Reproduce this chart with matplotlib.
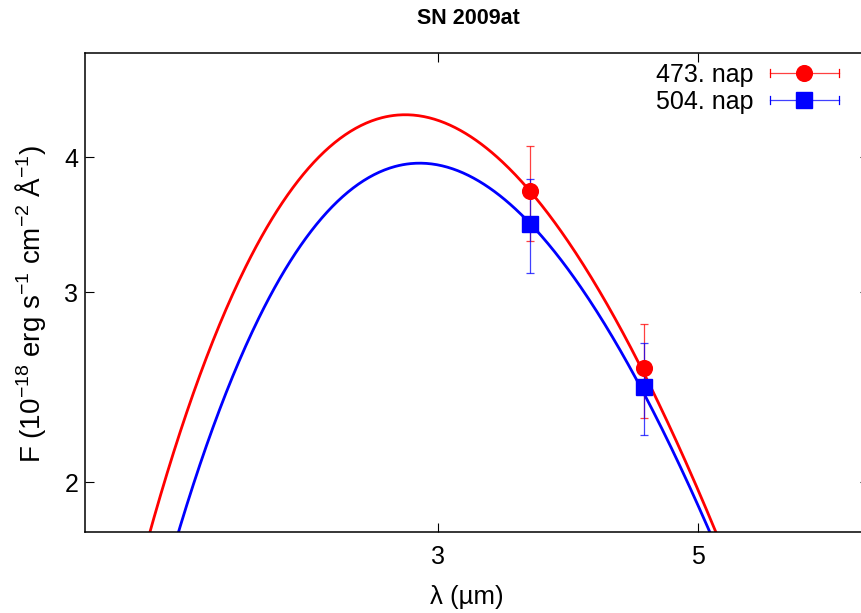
import numpy as np
import matplotlib
matplotlib.use('Agg')
import matplotlib.pyplot as plt
from matplotlib.lines import Line2D
from matplotlib.legend_handler import HandlerBase
from matplotlib.ticker import NullLocator

plt.rcParams['font.family'] = ['Liberation Sans', 'DejaVu Sans']
plt.rcParams['mathtext.fontset'] = 'custom'
plt.rcParams['mathtext.rm'] = 'Liberation Sans'
plt.rcParams['mathtext.it'] = 'Liberation Sans:italic'
plt.rcParams['mathtext.bf'] = 'Liberation Sans:bold'

# ---- data ----
epoch_labels = ['473. nap', '504. nap']
wavelengths = [3.6, 4.5]                 # micron (Spitzer IRAC ch1, ch2)
flux_473 = [3.72, 2.55]
err_473 = [0.375, 0.255]
flux_504 = [3.47, 2.45]
err_504 = [0.345, 0.24]
# fitted (modified) blackbody parameters per epoch
fit_temperature = [854.0, 830.0]         # K
fit_peak_flux = [4.38, 3.95]             # 1e-18 erg/s/cm2/A
fit_beta = [1.0, 1.0]                    # emissivity index
colors = ['#ff0000', '#0000ff']
markers = ['o', 's']

HC_K = 14388.0  # micron K


def model(lam, T, peak, beta):
    n = 5.0 + beta
    f = lam ** (-n) / np.expm1(HC_K / (lam * T))
    lg = np.geomspace(0.5, 20, 20000)
    fmax = np.max(lg ** (-n) / np.expm1(HC_K / (lg * T)))
    return peak * f / fmax


W, H = 861, 613
fig = plt.figure(figsize=(W / 100, H / 100), dpi=100)
ax = fig.add_axes([84.7 / W, 1 - 531.5 / H, (869 - 84.7) / W, (531.5 - 52.7) / H])
ax.set_xscale('log')
ax.set_yscale('log')
ax.set_xlim(1.5, 7.0)
ax.set_ylim(1.8, 5.0)

lam = np.geomspace(1.5, 7.0, 600)
fluxes = [flux_473, flux_504]
errs = [err_473, err_504]
for i in range(2):
    ax.plot(lam, model(lam, fit_temperature[i], fit_peak_flux[i], fit_beta[i]),
            color=colors[i], lw=2.0, zorder=2)
for i in range(2):
    ax.errorbar(wavelengths, fluxes[i], yerr=errs[i], fmt='none', ecolor=colors[i],
                elinewidth=0.9, capsize=3.0, capthick=0.9, alpha=0.75, zorder=3)
    ax.plot(wavelengths, fluxes[i], linestyle='none', marker=markers[i],
            color=colors[i], markersize=11.3, zorder=4)

ax.set_xticks([3, 5], ['3', '5'])
ax.set_yticks([2, 3, 4], ['2', '3', '4'])
ax.xaxis.set_minor_locator(NullLocator())
ax.yaxis.set_minor_locator(NullLocator())
ax.tick_params(which='major', direction='in', length=6.5, width=0.8,
               top=True, right=True, labelsize=18, colors='black')
ax.tick_params(axis='x', pad=9.5)
ax.tick_params(axis='y', pad=4.5)
for s in ax.spines.values():
    s.set_linewidth(1.1)


class ErrHandler(HandlerBase):
    def create_artists(self, legend, orig_handle, xdescent, ydescent, width,
                       height, fontsize, trans):
        c = orig_handle.get_color()
        m = orig_handle.get_marker()
        y = height / 2 - ydescent
        x0, x1 = -xdescent, -xdescent + width
        cap = 3.0
        arts = [Line2D([x0, x1], [y, y], color=c, lw=0.9, alpha=0.75),
                Line2D([x0, x0], [y - cap, y + cap], color=c, lw=0.9),
                Line2D([x1, x1], [y - cap, y + cap], color=c, lw=0.9),
                Line2D([(x0 + x1) / 2], [y], marker=m, color=c,
                       markersize=11.3, linestyle='none')]
        for a in arts:
            a.set_transform(trans)
        return arts


handles = [Line2D([], [], color=colors[i], marker=markers[i]) for i in range(2)]
leg = fig.legend(handles, epoch_labels, handler_map={Line2D: ErrHandler()},
                 loc='center right', bbox_to_anchor=(838.7 / W, 1 - 88.5 / H),
                 frameon=False, fontsize=18, markerfirst=False, handlelength=2.75,
                 handletextpad=0.64, borderpad=0, borderaxespad=0,
                 labelspacing=0.12)

fig.text(468 / W, 1 - 18 / H, 'SN 2009at', ha='center', va='center',
         fontsize=15.5, fontweight='bold')
fig.text(467 / W, 1 - 597 / H, 'λ (µm)', ha='center', va='center', fontsize=18.5)
fig.text(31 / W, 1 - 304 / H, r'F (10$^{-18}$ erg s$^{-1}$ cm$^{-2}$ Å$^{-1}$)',
         ha='center', va='center', rotation=90, fontsize=20)

fig.savefig('out.png', dpi=100)
